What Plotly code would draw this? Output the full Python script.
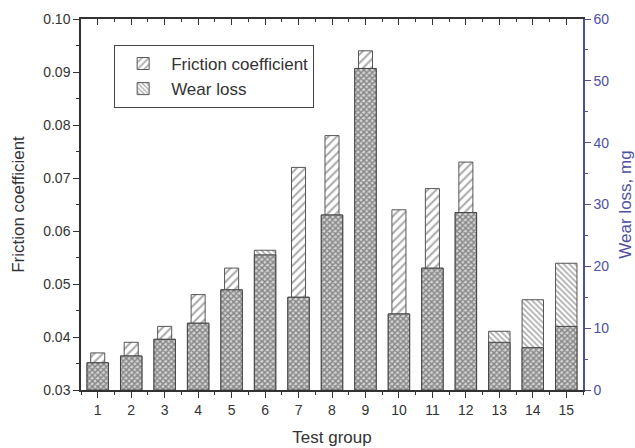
import numpy as np
import plotly.graph_objects as go

# Test data per group
groups = list(range(1, 16))
friction = [0.037, 0.039, 0.042, 0.048, 0.053, 0.0555, 0.072, 0.078, 0.094,
            0.064, 0.068, 0.073, 0.039, 0.038, 0.042]
wear = [4.4, 5.5, 8.2, 10.8, 16.2, 22.6, 15.0, 28.3, 52.0,
        12.3, 19.7, 28.7, 9.5, 14.6, 20.5]

F_RANGE = [0.03, 0.10]
W_RANGE = [0, 60]

# Height (in wear units) where the two bars overlap -> drawn cross-hatched
f_as_wear = (np.array(friction) - F_RANGE[0]) / (F_RANGE[1] - F_RANGE[0]) * (W_RANGE[1] - W_RANGE[0])
overlap = np.minimum(np.array(wear), f_as_wear)

DARK = "#333333"
BLUE = "#4f4f9f"
FONT = "Liberation Sans, Arial, sans-serif"

fig = go.Figure()

fig.add_trace(go.Bar(
    x=groups, y=friction, name="Friction coefficient", width=0.42,
    yaxis="y",
    marker=dict(color="white", line=dict(color="#555555", width=1),
                pattern=dict(shape="/", fgcolor="#555555", bgcolor="white",
                             size=6, solidity=0.35)),
))
fig.add_trace(go.Bar(
    x=groups, y=wear, name="Wear loss", width=0.64,
    yaxis="y2",
    marker=dict(color="white", line=dict(color="#555555", width=1),
                pattern=dict(shape="\\", fgcolor="#555555", bgcolor="white",
                             size=4, solidity=0.4)),
))
fig.add_trace(go.Bar(
    x=groups, y=overlap, name="overlap", width=0.64, showlegend=False,
    yaxis="y2",
    marker=dict(color="white", line=dict(color="#444444", width=1),
                pattern=dict(shape="x", fgcolor="#333333", bgcolor="#d4d4d4",
                             size=4, solidity=0.6)),
))

fig.update_layout(
    width=635, height=448,
    margin=dict(l=81, r=52, t=19, b=58),
    plot_bgcolor="white", paper_bgcolor="white",
    barmode="overlay",
    font=dict(family=FONT, size=14, color=DARK),
    showlegend=True,
    legend=dict(x=0.066, y=0.93, xanchor="left", yanchor="top",
                bordercolor="#444444", borderwidth=1, bgcolor="white",
                font=dict(size=17, color=DARK), tracegroupgap=0,
                itemwidth=46),
    xaxis=dict(
        range=[0.5, 15.5], tickmode="linear", tick0=1, dtick=1, automargin=False,
        ticks="outside", ticklen=6, tickwidth=1, tickcolor=DARK,
        minor=dict(ticks="outside", ticklen=3, tick0=0.5, dtick=1, tickcolor=DARK),
        showline=True, linecolor=DARK, linewidth=1.5, showgrid=False, zeroline=False,
        title=dict(text="Test group", font=dict(size=17, color=DARK), standoff=15),
        tickfont=dict(size=14, color=DARK),
    ),
    xaxis2=dict(
        range=[0.5, 15.5], overlaying="x", side="top", tickmode="linear",
        tick0=1, dtick=1, ticks="inside", ticklen=6, tickcolor=DARK, automargin=False,
        minor=dict(ticks="inside", ticklen=3, tick0=0.5, dtick=1, tickcolor=DARK),
        showticklabels=False, showline=True, linecolor=DARK, linewidth=1.5,
        showgrid=False, zeroline=False,
    ),
    yaxis=dict(
        range=F_RANGE, tickmode="linear", tick0=0.03, dtick=0.01, tickformat=".2f",
        ticks="outside", ticklen=6, tickcolor=DARK, automargin=False,
        minor=dict(ticks="outside", ticklen=3, dtick=0.005, tickcolor=DARK),
        showline=True, linecolor=DARK, linewidth=1.5, showgrid=False, zeroline=False,
        title=dict(text="Friction coefficient", font=dict(size=17, color=DARK), standoff=14),
        tickfont=dict(size=14, color=DARK),
    ),
    yaxis2=dict(
        range=W_RANGE, overlaying="y", side="right", tickmode="linear",
        tick0=0, dtick=10, ticks="outside", ticklen=6, tickcolor=BLUE, automargin=False,
        minor=dict(ticks="outside", ticklen=3, dtick=5, tickcolor=BLUE),
        showline=True, linecolor=BLUE, linewidth=1.5, showgrid=False, zeroline=False,
        title=dict(text="Wear loss, mg", font=dict(size=17, color=BLUE), standoff=17),
        tickfont=dict(size=14, color=BLUE),
    ),
)

# Attach the top axis so its line and ticks are drawn
fig.add_trace(go.Scatter(x=[None], y=[None], xaxis="x2", yaxis="y", showlegend=False,
                         hoverinfo="skip"))

fig.write_html("out.html")
